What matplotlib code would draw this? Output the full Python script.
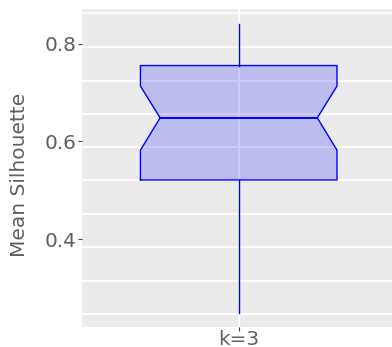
import numpy as np
import matplotlib
matplotlib.use("Agg")
import matplotlib.pyplot as plt

# box summary
categories = ['k=3']
q1 = [0.521]
median = [0.648]
q3 = [0.755]
whisker_lo = [0.248]
whisker_hi = [0.840]
notch_lo = [0.582]
notch_hi = [0.713]

y_ticks = [0.4, 0.6, 0.8]
# the horizontal grid lines sit a bit apart from the labels in the original
grid_vals = [0.2467, 0.3143, 0.3832, 0.4513, 0.5202, 0.5877, 0.6569, 0.7243, 0.7922, 0.8618]

plt.rcParams['font.family'] = ['DejaVu Sans']
fig = plt.figure(figsize=(3.92, 3.47), dpi=100)
ax = fig.add_axes([0.2092, 0.0576, 0.7908, 0.9164])
ax.set_facecolor('#ebebeb')
for s in ax.spines.values():
    s.set_visible(False)

half = 0.317     # half box width
nw = 0.8         # notch depth as share of half width
for i, c in enumerate(categories):
    x0, x1 = i - half, i + half
    n0, n1 = i - half * nw, i + half * nw
    xs = [x0, x1, x1, n1, x1, x1, x0, x0, n0, x0, x0]
    ys = [q1[i], q1[i], notch_lo[i], median[i], notch_hi[i], q3[i], q3[i],
          notch_hi[i], median[i], notch_lo[i], q1[i]]
    ax.fill(xs, ys, facecolor=(0, 0, 1, 0.2), edgecolor='none', zorder=3)
    ax.plot(xs, ys, color='#0000ff', lw=1.0, zorder=4)
    ax.plot([n0, n1], [median[i], median[i]], color='#0000ff', lw=1.4, zorder=4)
    ax.plot([i, i], [q3[i], whisker_hi[i]], color='#0000ff', lw=1.0, zorder=4)
    ax.plot([i, i], [q1[i], whisker_lo[i]], color='#0000ff', lw=1.0, zorder=4)

ax.set_xlim(-0.5055, 0.4945)
ax.set_ylim(0.2202, 0.8706)

ax.set_xticks(range(len(categories)))
ax.set_xticklabels(categories)
ax.set_yticks(y_ticks)
ax.set_yticklabels([f'{v:.1f}' for v in y_ticks])
ax.set_yticks(grid_vals, minor=True)
ax.tick_params(axis='y', which='minor', length=0)
ax.tick_params(which='major', length=3, width=0.8, color='#444444',
               labelsize=14.4, labelcolor='#5f5f5f', pad=1)
ax.tick_params(axis='x', which='major', pad=-1)
ax.grid(False)
ax.yaxis.grid(True, which='minor', color='white', lw=1.3, zorder=0)
ax.xaxis.grid(True, which='major', color='white', lw=1.3, zorder=0)
ax.set_axisbelow(True)

ax.set_ylabel('Mean Silhouette', fontsize=14.5, color='#5f5f5f')
ax.yaxis.set_label_coords(-0.171, 0.478)

fig.savefig('out.png', dpi=100)
